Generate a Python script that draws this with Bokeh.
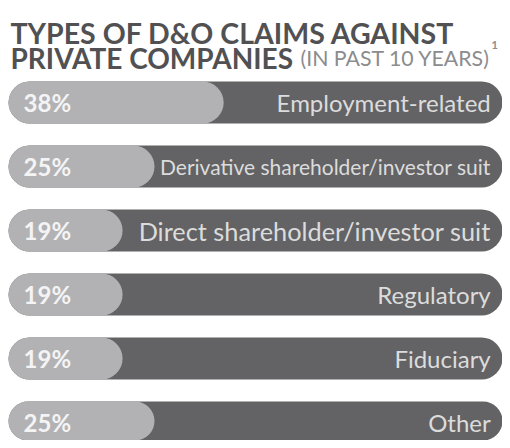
from bokeh.plotting import figure
from bokeh.models import Range1d, Label, ColumnDataSource
from bokeh.core.properties import value
from bokeh.embed import file_html
from bokeh.resources import INLINE

# ---- data ----
categories = ["Employment-related", "Derivative shareholder/investor suit",
              "Direct shareholder/investor suit", "Regulatory", "Fiduciary", "Other"]
percents = [38, 25, 19, 19, 19, 25]
pct_labels = [f"{v}%" for v in percents]
title_line1 = "TYPES OF D&O CLAIMS AGAINST"
title_line2 = "PRIVATE COMPANIES"
title_sub = "(IN PAST 10 YEARS)"
title_note = "1"

# ---- style ----
FONT = "Lato"
DARK = "#636365"
LIGHT = "#b2b2b5"
W, H = 502, 440
X_START, X_END = -3.95, 90.41
BAR_LEFT = -2.44
label_sizes = ["24px", "21px", "25.3px", "24px", "24px", "24px"]

idx = list(range(len(categories)))
src = ColumnDataSource(dict(
    y=idx, value=percents, pct=pct_labels, cat=categories,
    left=[BAR_LEFT] * len(idx), right=[X_END] * len(idx), size=label_sizes,
    pct_x=[0.38] * len(idx), cat_x=[88.2] * len(idx),
))

p = figure(width=W, height=H, output_backend="svg", toolbar_location=None,
           x_range=Range1d(X_START, X_END), y_range=Range1d(5.28125, -1.59375),
           min_border=0)
p.axis.visible = False
p.grid.visible = False
p.outline_line_color = None
p.background_fill_color = "white"
p.border_fill_color = "white"

bh = 42 / 64
p.hbar(y="y", left="left", right="right", height=bh, source=src,
       fill_color=DARK, line_color=None, border_radius=21)
p.hbar(y="y", left="left", right="value", height=bh, source=src,
       fill_color=LIGHT, line_color=None, border_radius=21)

p.text(x="pct_x", y="y", text="pct", source=src, text_font=value(FONT),
       text_font_style="bold", text_font_size="24px", text_color="#f4f4f4",
       text_baseline="middle", text_align="left")
p.text(x="cat_x", y="y", text="cat", source=src, text_font=value(FONT),
       text_font_size="size", text_color="#dcdcdc",
       text_baseline="middle", text_align="right")

p.add_layout(Label(x=10, y=H - 32, x_units="screen", y_units="screen", text=title_line1,
                   text_font=FONT, text_font_style="bold", text_font_size="28.5px",
                   text_color="#515153", text_baseline="alphabetic"))
p.add_layout(Label(x=10, y=H - 57, x_units="screen", y_units="screen", text=title_line2,
                   text_font=FONT, text_font_style="bold", text_font_size="28px",
                   text_color="#515153", text_baseline="alphabetic"))
p.add_layout(Label(x=300, y=H - 57, x_units="screen", y_units="screen", text=title_sub,
                   text_font=FONT, text_font_size="21.3px",
                   text_color="#8c8c8e", text_baseline="alphabetic"))
p.add_layout(Label(x=491, y=H - 44, x_units="screen", y_units="screen", text=title_note,
                   text_font=FONT, text_font_size="11px", text_font_style="bold",
                   text_color="#8c8c8e", text_baseline="alphabetic"))

open("out.html", "w").write(file_html(p, INLINE))
